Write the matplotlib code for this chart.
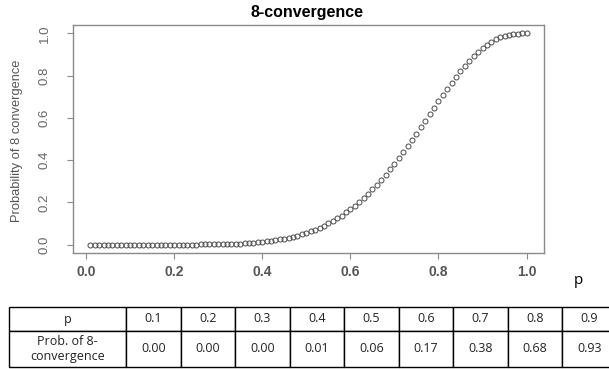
import matplotlib
matplotlib.use("Agg")
import matplotlib.pyplot as plt
from matplotlib import font_manager

# probability of reaching 8-convergence for p = 0.01 ... 1.00
p_values = [round(0.01 * i, 2) for i in range(1, 101)]
prob_8conv = [
    0.000, 0.000, 0.000, 0.000, 0.000, 0.000, 0.000, 0.000, 0.000, 0.000,
    0.000, 0.000, 0.000, 0.000, 0.000, 0.000, 0.000, 0.000, 0.000, 0.000,
    0.000, 0.000, 0.000, 0.000, 0.000, 0.001, 0.001, 0.001, 0.001, 0.002,
    0.002, 0.003, 0.003, 0.004, 0.005, 0.006, 0.007, 0.009, 0.010, 0.012,
    0.015, 0.017, 0.020, 0.024, 0.027, 0.032, 0.037, 0.042, 0.048, 0.056,
    0.062, 0.070, 0.079, 0.089, 0.100, 0.111, 0.124, 0.137, 0.152, 0.167,
    0.184, 0.202, 0.221, 0.241, 0.262, 0.284, 0.307, 0.331, 0.357, 0.383,
    0.410, 0.438, 0.466, 0.496, 0.526, 0.556, 0.586, 0.617, 0.647, 0.678,
    0.708, 0.737, 0.766, 0.794, 0.820, 0.845, 0.869, 0.891, 0.912, 0.930,
    0.946, 0.960, 0.972, 0.981, 0.988, 0.994, 0.997, 0.999, 1.000, 1.000,
]

table_p = ["0.1", "0.2", "0.3", "0.4", "0.5", "0.6", "0.7", "0.8", "0.9"]
table_prob = ["0.00", "0.00", "0.00", "0.01", "0.06", "0.17", "0.38", "0.68", "0.93"]

installed = {f.name for f in font_manager.fontManager.ttflist}
narrow = "Liberation Sans Narrow" if "Liberation Sans Narrow" in installed else "Liberation Sans"

fig = plt.figure(figsize=(6.09, 3.69), dpi=100)
ax = fig.add_axes([73 / 609, 1 - 253 / 369, 471 / 609, 228 / 369])

ax.plot(p_values, prob_8conv, linestyle="none", marker="o", markersize=3.6,
        markerfacecolor="none", markeredgecolor="#4a4a4a", markeredgewidth=0.7)

# R-style axes: 4% padding, grey frame, outward ticks
ax.set_xlim(-0.0296, 1.0396)
ax.set_ylim(-0.04, 1.04)
for s in ax.spines.values():
    s.set_color("#8a8a8a")
    s.set_linewidth(1.0)
ax.set_xticks([0.0, 0.2, 0.4, 0.6, 0.8, 1.0])
ax.set_yticks([0.0, 0.2, 0.4, 0.6, 0.8, 1.0])
ax.tick_params(direction="out", length=4, width=0.8, color="#8a8a8a")
ax.set_xticklabels(["0.0", "0.2", "0.4", "0.6", "0.8", "1.0"],
                   fontfamily="Liberation Sans", fontweight="bold",
                   fontsize=10, color="#555555")
ax.set_yticklabels(["0.0", "0.2", "0.4", "0.6", "0.8", "1.0"],
                   fontfamily=narrow, fontsize=9.5, color="#666666",
                   rotation=90, va="center")
ax.tick_params(axis="x", pad=5)
ax.tick_params(axis="y", pad=12)

fig.text(307 / 609, 1 - 13 / 369, "8-convergence", ha="center", va="center",
         fontfamily="Liberation Sans", fontweight="bold", fontsize=11.5)
fig.text(17 / 609, 1 - 141 / 369, "Probability of 8 convergence", rotation=90,
         ha="center", va="center", fontfamily=narrow, fontsize=9.3, color="#555555")
fig.text(578 / 609, 1 - 281 / 369, "p", ha="center", va="center",
         fontfamily="Open Sans", fontsize=11)

# value table under the plot
tax = fig.add_axes([9 / 609, 1 - 367 / 369, 607.5 / 609, 60 / 369])
tax.axis("off")
col_w = [117] + [54.5] * len(table_p)
tbl = tax.table(cellText=[["p"] + table_p,
                          ["Prob. of 8-\nconvergence"] + table_prob],
                colWidths=[w / sum(col_w) for w in col_w],
                cellLoc="center", bbox=[0, 0, 1, 1])
tbl.auto_set_font_size(False)
for (r, c), cell in tbl.get_celld().items():
    cell.set_height(0.4 if r == 0 else 0.6)
    cell.set_linewidth(1.0)
    cell.set_edgecolor("black")
    cell.get_text().set_fontfamily("Open Sans")
    cell.get_text().set_fontsize(9)
    cell.get_text().set_color("#222222")

fig.savefig("out.png", dpi=100)
